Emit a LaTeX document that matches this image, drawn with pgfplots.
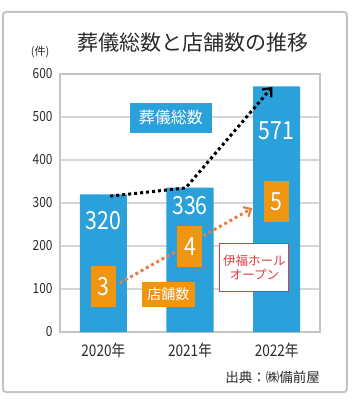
\documentclass[border=0pt]{standalone}
\usepackage{pgfplots}
\pgfplotsset{compat=1.18}
\usetikzlibrary{arrows.meta}
\usepackage{fontspec}
\setmainfont{Noto Sans CJK JP}
\newfontfamily\numfont[FakeStretch=0.85]{Noto Sans CJK JP}
\definecolor{barblue}{HTML}{2AA1DB}
\definecolor{boxorange}{HTML}{EE9511}
\definecolor{lineorange}{HTML}{E87D46}
\definecolor{labred}{HTML}{E8383D}
\definecolor{txt}{HTML}{2A2A2A}
\definecolor{frame}{HTML}{C4C4C4}
\begin{document}
\begin{tikzpicture}
\begin{axis}[name=ax,
  scale only axis, width=260bp, height=258bp,
  xmin=-0.5, xmax=2.5, ymin=0, ymax=600,
  xtick={0,1,2}, xticklabels={2020年,2021年,2022年},
  ytick={0,100,...,600},
  /pgf/number format/assume math mode=true,
  major tick length=0pt,
  ymajorgrids, grid style={draw=frame!70, line width=1.2bp},
  axis line style={draw=frame, line width=1.6bp},
  xticklabel style={font=\numfont\fontsize{16bp}{18bp}\selectfont, text=txt, yshift=-7bp},
  yticklabel style={font=\numfont\fontsize{14bp}{16bp}\selectfont, text=txt, xshift=-4bp},
  clip=false,
]
\addplot[ybar, bar width=47bp, bar shift=0pt, fill=barblue, draw=none]
  coordinates {(0,320) (1,336) (2,571)};
% black dotted trend
\addplot[black, line width=3bp, dash pattern=on 3bp off 3bp,
  -{Straight Barb[length=7bp,width=12bp,line width=2.2bp]}]
  coordinates {(0.08,316) (0.95,335) (1.95,570)};
% orange dotted trend
\addplot[lineorange, line width=3bp, dash pattern=on 3bp off 3bp,
  -{Straight Barb[length=6bp,width=11bp,line width=2.2bp]}]
  coordinates {(0.19,114) (1.72,288)};
% store counts
\addplot[draw=none, mark=none, nodes near coords, point meta=explicit symbolic,
  every node near coord/.append style={anchor=center, fill=boxorange, text=white,
    minimum width=25bp, minimum height=41bp, inner sep=0pt,
    font=\numfont\fontsize{25bp}{27bp}\selectfont}]
  coordinates {(0,105) [3] (1,198) [4] (2,304) [5]};
% funeral totals
\addplot[draw=none, mark=none, nodes near coords, point meta=explicit symbolic,
  every node near coord/.append style={anchor=center, text=white, inner sep=0pt,
    font=\numfont\fontsize{25bp}{27bp}\selectfont}]
  coordinates {(0,258) [320] (1,293) [336] (2,467) [571]};
\node[fill=barblue, text=white, minimum width=82bp, minimum height=30bp, inner sep=0pt,
  font=\fontsize{16bp}{18bp}\selectfont] at (axis cs:0.78,498) {葬儀総数};
\node[fill=boxorange, text=white, minimum width=53bp, minimum height=25bp, inner sep=0pt,
  font=\fontsize{14bp}{16bp}\selectfont] at (axis cs:0.75,88) {店舗数};
\node[fill=white, draw=labred, line width=1bp, text=labred, minimum width=69bp, minimum height=48bp,
  inner sep=0pt, align=center, font=\fontsize{12.5bp}{14bp}\selectfont] at (axis cs:1.744,149) {伊福ホール\\オープン};
\end{axis}
\path[use as bounding box] ([shift={(-60bp,-68bp)}]ax.south west) rectangle ([shift={(34bp,74bp)}]ax.north east);
\draw[frame, line width=2bp, rounded corners=3bp]
  ([shift={(-57bp,-60bp)}]ax.south west) rectangle ([shift={(27bp,62bp)}]ax.north east);
\node[text=txt, font=\fontsize{21bp}{23bp}\selectfont] at ([shift={(133bp,31bp)}]ax.north west) {葬儀総数と店舗数の推移};
\node[text=txt, font=\fontsize{11bp}{13bp}\selectfont] at ([shift={(-20bp,22bp)}]ax.north west) {(件)};
\node[text=txt, anchor=east, inner sep=0pt, font=\fontsize{13.5bp}{15bp}\selectfont] at ([shift={(0bp,-45bp)}]ax.south east) {出典：㈱備前屋};
\end{tikzpicture}
\end{document}
